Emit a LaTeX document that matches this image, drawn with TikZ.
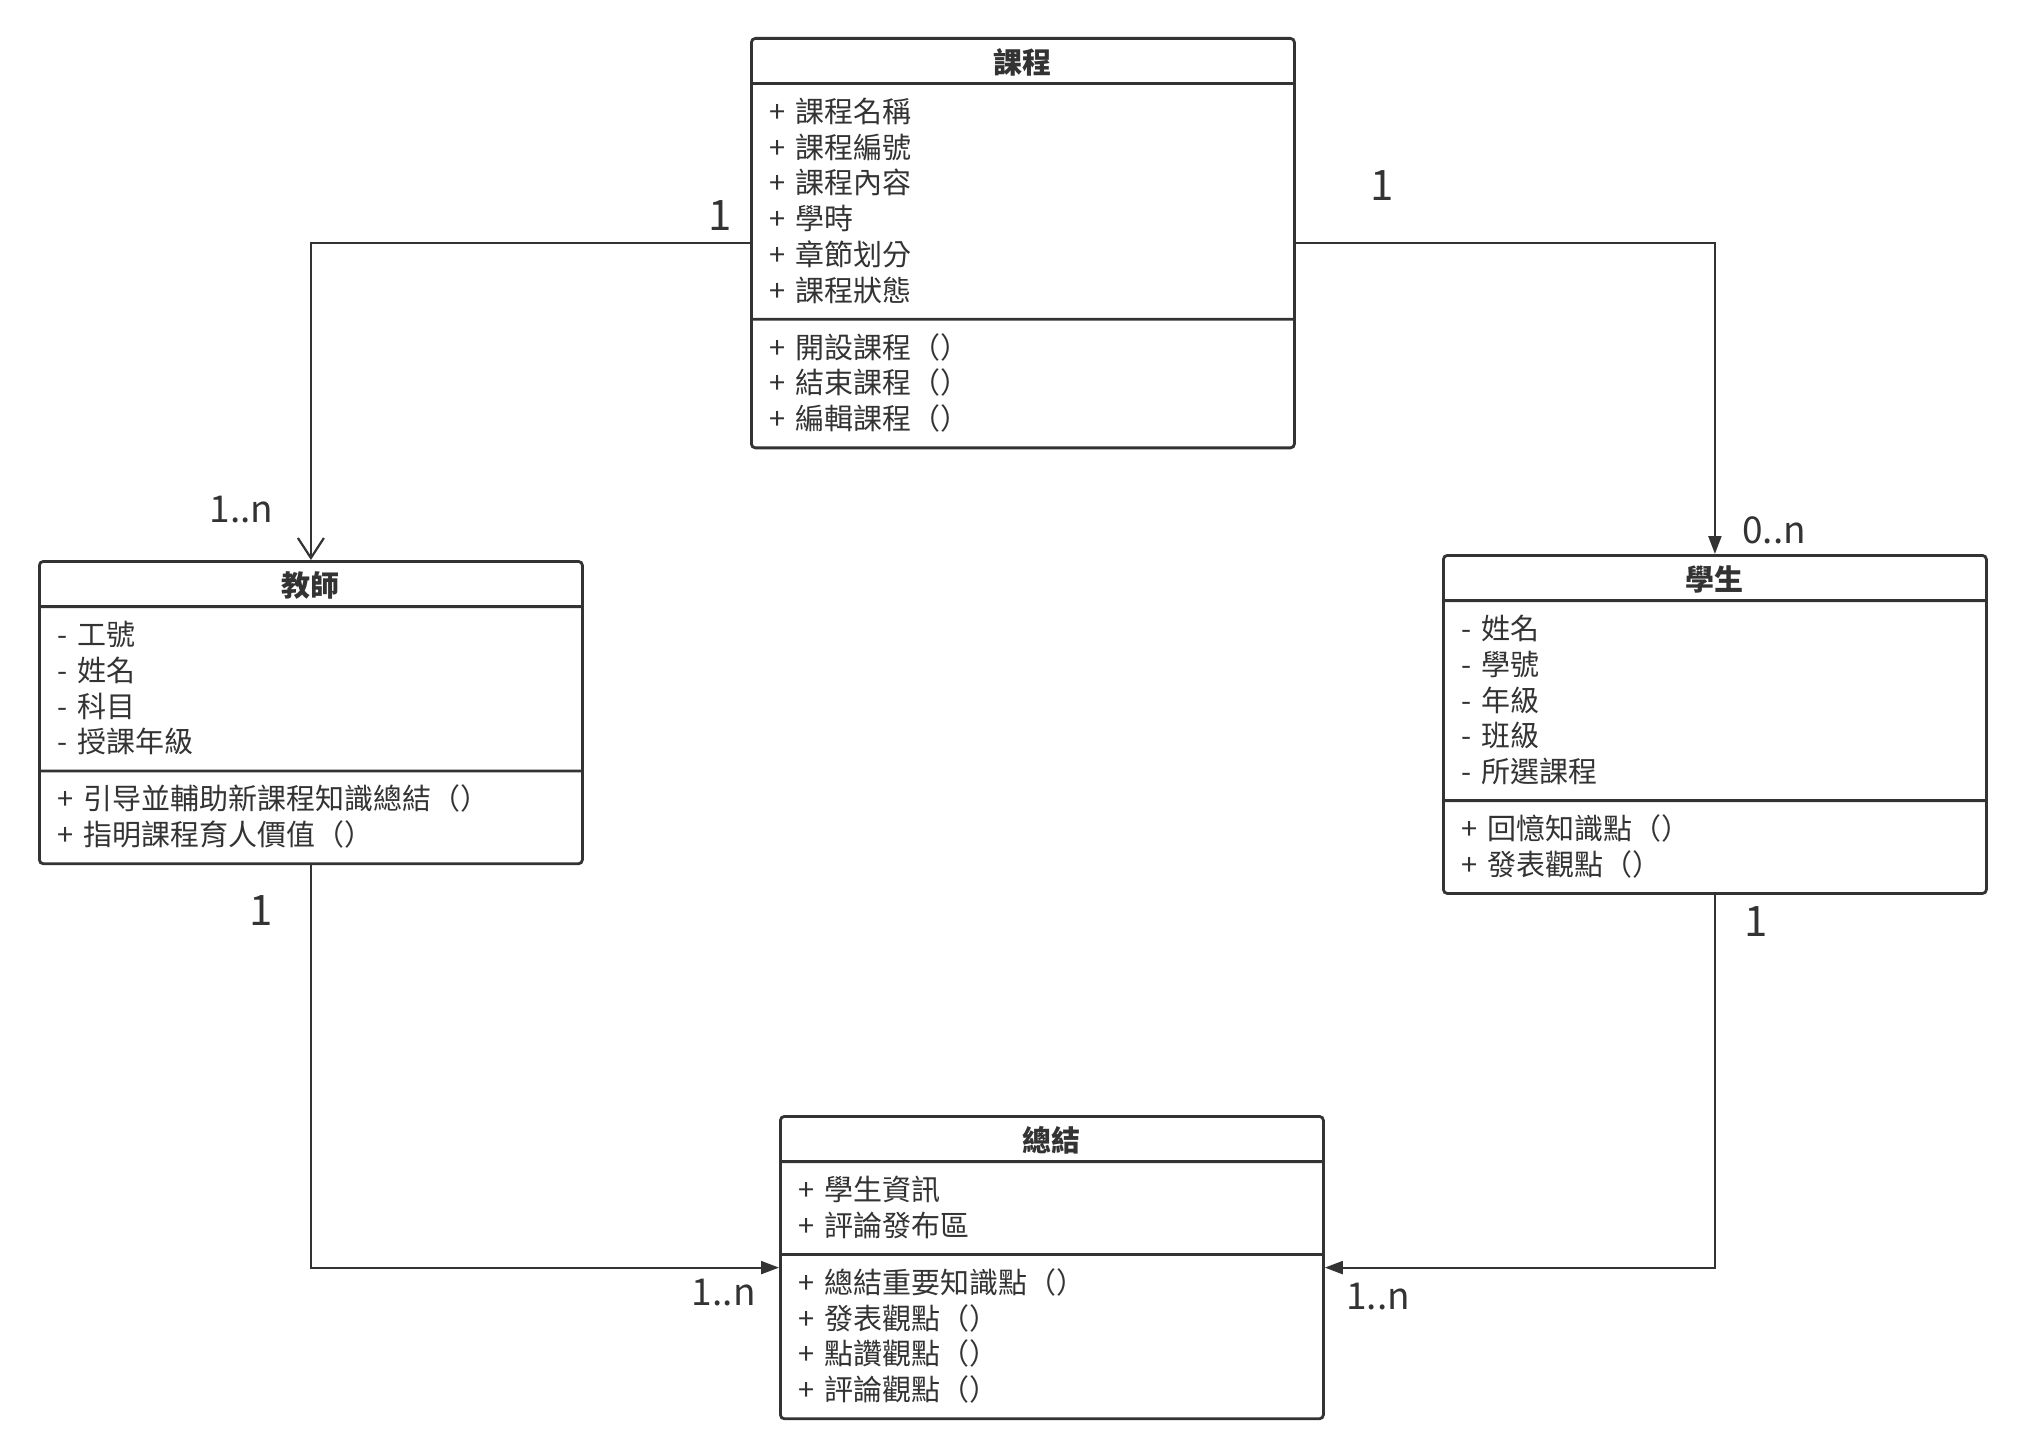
\documentclass[tikz,border=0pt]{standalone}
\usepackage{fontspec}
\setmainfont{Noto Sans CJK TC}
\usetikzlibrary{arrows.meta, positioning, shapes.multipart}
\definecolor{umlline}{HTML}{333333}
\definecolor{umltext}{HTML}{333333}
\newcommand{\firstrow}{\rule{0pt}{16.45pt}}
\newcommand{\lastrow}{\rule[-6.05pt]{0pt}{6.05pt}}
\newcommand{\classname}[1]{\rule{0pt}{14.7pt}\makebox[\linewidth]{\textbf{#1}}\rule[-1.8pt]{0pt}{1.8pt}}
\tikzset{
    umlclass/.style={
        rectangle split, rectangle split parts=3,
        rounded corners=2pt, draw=umlline, line width=1.4pt,
        text=umltext, text width=253.5pt, align=left,
        inner xsep=9pt, inner ysep=2.35pt, anchor=north west,
        font=\fontsize{14.5}{17.85}\selectfont
    },
    mult/.style={
        font=\fontsize{21}{24}\selectfont, text=umltext, inner sep=0pt
    },
    multrange/.style={
        mult, font=\fontsize{18.5}{22}\selectfont
    },
    assoc/.style={
        -{Straight Barb[length=10pt,width=13pt]}, line width=1.1pt, color=umlline
    },
    dirassoc/.style={
        -{Triangle[length=9pt,width=6.5pt]}, line width=1.1pt, color=umlline
    }
}

\begin{document}
\begin{tikzpicture}[x=0.5pt, y=-0.5pt]
    \useasboundingbox (0,0) rectangle (2022,1454);

    % Classes
    \node[umlclass] (course) at (750,37) {\classname{課程}
        \nodepart{second}\firstrow + 課程名稱\\
        + 課程編號\\
        + 課程內容\\
        + 學時\\
        + 章節划分\\
        + 課程狀態\lastrow
        \nodepart{third}\firstrow + 開設課程（）\\
        + 結束課程（）\\
        + 編輯課程（）\lastrow};
    \node[umlclass] (teacher) at (38,560) {\classname{教師}
        \nodepart{second}\firstrow - 工號\\
        - 姓名\\
        - 科目\\
        - 授課年級\lastrow
        \nodepart{third}\firstrow + 引导並輔助新課程知識總結（）\\
        + 指明課程育人價值（）\lastrow};
    \node[umlclass] (student) at (1442,554) {\classname{學生}
        \nodepart{second}\firstrow - 姓名\\
        - 學號\\
        - 年級\\
        - 班級\\
        - 所選課程\lastrow
        \nodepart{third}\firstrow + 回憶知識點（）\\
        + 發表觀點（）\lastrow};
    \node[umlclass] (summary) at (779,1115) {\classname{總結}
        \nodepart{second}\firstrow + 學生資訊\\
        + 評論發布區\lastrow
        \nodepart{third}\firstrow + 總結重要知識點（）\\
        + 發表觀點（）\\
        + 點讚觀點（）\\
        + 評論觀點（）\lastrow};

    % Associations
    \draw[assoc] (course.west) -| (teacher.north);
    \draw[dirassoc] (course.east) -| (student.north);
    \draw[dirassoc] (teacher.south) |- (summary.west);
    \draw[dirassoc] (student.south) |- (summary.east);

    % Multiplicities
    \node[mult, above left=6pt and 9pt of course.west] (m1) {1};
    \node[multrange, above left=18.5pt and 18.5pt of teacher.north] (m2) {1..n};
    \node[mult, above right=21pt and 37pt of course.east] (m3) {1};
    \node[multrange, above right=4.75pt and 13.5pt of student.north] (m4) {0..n};
    \node[mult, below left=15pt and 19pt of teacher.south] (m5) {1};
    \node[multrange, below left=5.5pt and 11.5pt of summary.west] (m6) {1..n};
    \node[mult, below right=5.5pt and 14.7pt of student.south] (m7) {1};
    \node[multrange, below right=7.7pt and 10.5pt of summary.east] (m8) {1..n};

\end{tikzpicture}
\end{document}
